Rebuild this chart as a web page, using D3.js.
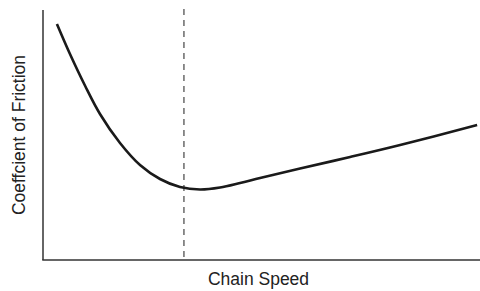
<!DOCTYPE html>
<html>
<head>
<meta charset="utf-8">
<script src="https://cdn.jsdelivr.net/npm/d3@7"></script>
<style>
  html, body { margin: 0; padding: 0; background: #fff; }
  svg { display: block; }
  text { font-family: "Liberation Sans", Arial, sans-serif; fill: #222; }
</style>
</head>
<body>
<svg id="chart" width="480" height="291"></svg>
<script>
// Data (arbitrary units: speed 0-100, friction 0-100)
const speed    = [3.2, 6.2, 9.7, 13.1, 17.7, 22.3, 26.9, 31.5, 36.1, 40.7, 45.3, 49.9, 59.1, 70.6, 82.1, 99.8];
const friction = [94.4, 82.4, 69.6, 58.4, 46.8, 38.0, 32.4, 29.2, 28.2, 29.0, 30.8, 32.8, 36.6, 41.2, 46.0, 54.0];
const optimalSpeed = [32.4];
const xLabel = "Chain Speed";
const yLabel = "Coeffcient of Friction";

const svg = d3.select("#chart");
const x = d3.scaleLinear().domain([0, 100]).range([43, 478]);
const y = d3.scaleLinear().domain([0, 100]).range([260, 10]);

// axes (no ticks)
svg.append("line")
  .attr("x1", x(0)).attr("x2", x(0))
  .attr("y1", y(100)).attr("y2", y(0))
  .attr("stroke", "#333").attr("stroke-width", 1.5);
svg.append("line")
  .attr("x1", x(0) - 0.75).attr("x2", 480)
  .attr("y1", y(0)).attr("y2", y(0))
  .attr("stroke", "#333").attr("stroke-width", 1.5);

// dashed vertical line
svg.selectAll(".vline").data(optimalSpeed).enter().append("line")
  .attr("class", "vline")
  .attr("x1", d => x(d)).attr("x2", d => x(d))
  .attr("y1", y(100) - 1).attr("y2", y(0))
  .attr("stroke", "#444").attr("stroke-width", 1.2)
  .attr("stroke-dasharray", "6,5");

// curve
const pts = speed.map((s, i) => [s, friction[i]]);
const line = d3.line().x(d => x(d[0])).y(d => y(d[1])).curve(d3.curveCatmullRom.alpha(0.5));
svg.append("path")
  .datum(pts)
  .attr("d", line)
  .attr("fill", "none")
  .attr("stroke", "#1a1a1a")
  .attr("stroke-width", 2.6)
  .attr("stroke-linecap", "butt");

// labels
svg.append("text")
  .attr("x", 258.5).attr("y", 285)
  .attr("text-anchor", "middle")
  .style("font-size", "17.5px")
  .text(xLabel);

svg.append("text")
  .attr("transform", "translate(25,135) rotate(-90)")
  .attr("text-anchor", "middle")
  .style("font-size", "17.5px")
  .text(yLabel);
</script>
</body>
</html>
